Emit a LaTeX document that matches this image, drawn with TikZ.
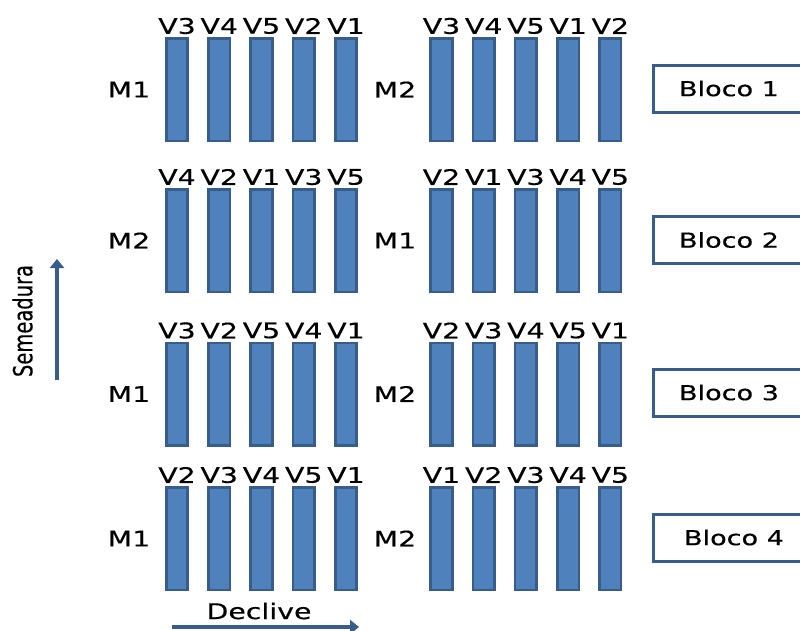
\documentclass[tikz,border=0pt]{standalone}
\usepackage{fontspec}
\setmainfont{DejaVu Sans}
\newfontfamily\widefont[FakeStretch=1.32,FakeBold=0.4]{DejaVu Sans}
\newfontfamily\semfont[FakeBold=0.4]{DejaVu Sans}
\usetikzlibrary{arrows.meta}
\definecolor{plotfill}{HTML}{4F81BD}
\definecolor{plotedge}{HTML}{385D8A}
\tikzset{
  plotbar/.style={draw=plotedge, fill=plotfill, line width=2.6pt, minimum width=21.5pt,
    minimum height=102.5pt, inner sep=0pt, anchor=north},
  vlab/.style={font=\widefont\fontsize{21.5}{25}\selectfont, inner sep=0pt, text=black},
  mlab/.style={font=\widefont\fontsize{21.5}{25}\selectfont, inner sep=0pt, text=black},
  bloco/.style={draw=plotedge, line width=3pt, fill=white, minimum width=152pt,
    minimum height=47pt, inner sep=0pt, font=\widefont\fontsize{20.5}{25}\selectfont, text=black},
  dirarrow/.style={draw=plotedge, line width=4.6pt, -{Triangle[width=14pt,length=9pt]}},
}
\newcommand{\plotrow}[6]{%
  \foreach \lab [count=\i from 0] in {#5} {
    \node[plotbar] (#1L\i) at ({177+42.25*\i}, #2) {};
    \node[vlab] (#1LV\i) at ([yshift=11pt]#1L\i.north) {\lab};
  }
  \foreach \lab [count=\i from 0] in {#6} {
    \node[plotbar] (#1R\i) at ({441.5+42.2*\i}, #2) {};
    \node[vlab] (#1RV\i) at ([yshift=11pt]#1R\i.north) {\lab};
  }
  \node[mlab] (#1ML) at (129, {#2+52.5}) {#3};
  \node[mlab] (#1MR) at (395, {#2+52.5}) {#4};
}
\begin{document}
\begin{tikzpicture}[x=1pt, y=-1pt]
  \useasboundingbox (0,0) rectangle (800,630);
  \fill[white] (0,0) rectangle (800,630);

  \plotrow{a}{37}{M1}{M2}{V3,V4,V5,V2,V1}{V3,V4,V5,V1,V2}
  \plotrow{b}{188}{M2}{M1}{V4,V2,V1,V3,V5}{V2,V1,V3,V4,V5}
  \plotrow{c}{341.5}{M1}{M2}{V3,V2,V5,V4,V1}{V2,V3,V4,V5,V1}
  \plotrow{d}{486}{M1}{M2}{V2,V3,V4,V5,V1}{V1,V2,V3,V4,V5}

  \node[bloco] (b1) at (729, 88.5) {Bloco 1};
  \node[bloco] (b2) at (729, 240) {Bloco 2};
  \node[bloco] (b3) at (729, 392.5) {Bloco 3};
  \node[bloco] (b4) at (729, 537.5) {\hspace{10pt}Bloco 4};

  \begin{scope}[shift={(22.5,321)}, xscale=1.35]
    \node[rotate=90, transform shape, inner sep=0pt, font=\semfont\fontsize{19.5}{23}\selectfont] (sem) at (0,0) {Semeadura};
  \end{scope}
  \coordinate (semA) at (57,380);
  \coordinate (semB) at (57,259);
  \draw[dirarrow] (semA) -- (semB);

  \node[vlab] (dec) at (259, 611) {Declive};
  \coordinate (decA) at (172,627);
  \coordinate (decB) at (359,627);
  \draw[dirarrow] (decA) -- (decB);
\end{tikzpicture}
\end{document}
